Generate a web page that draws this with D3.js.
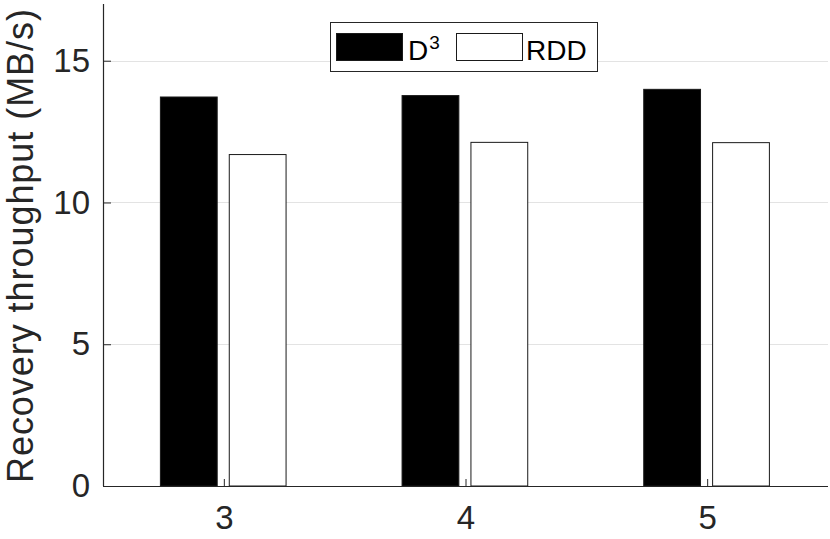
<!DOCTYPE html>
<html>
<head>
<meta charset="utf-8">
<title>Recovery throughput</title>
<script src="https://d3js.org/d3.v7.min.js"></script>
<style>
  body { margin: 0; background: #fff; }
  text { font-family: "Liberation Sans", Arial, sans-serif; }
</style>
</head>
<body>
<div id="chart"></div>
<script>
// values
const categories = [3, 4, 5]
const seriesNames = ["D", "RDD"]
const d3Values = [13.72, 13.77, 13.99]
const rddValues = [11.69, 12.12, 12.11]
const yTicks = [0, 5, 10, 15]

const W = 830, H = 539
const plotL = 103, plotR = 828, plotT = 4, plotB = 486
const ink = "#262626"

const svg = d3.select("#chart").append("svg")
    .attr("width", W)
    .attr("height", H)

const x = d3.scaleLinear().domain([2.5, 5.5]).range([plotL, plotR])
const y = d3.scaleLinear().domain([0, 17]).range([plotB, plotT])

// horizontal grid
svg.append("g")
    .selectAll("line")
    .data(yTicks.filter(d => d > 0))
    .enter().append("line")
    .attr("x1", plotL).attr("x2", plotR)
    .attr("y1", d => Math.round(y(d)) + 0.5).attr("y2", d => Math.round(y(d)) + 0.5)
    .attr("stroke", "#e3e3e3")
    .attr("stroke-width", 1)

// bars: D^3 black, RDD white
const barW = 0.235
const offsets = [-0.145, 0.14]
const series = [
    {name: "D3", values: d3Values, fill: "#000"},
    {name: "RDD", values: rddValues, fill: "#fff"}
]

series.forEach((s, i) => {
    svg.append("g")
        .selectAll("rect")
        .data(s.values)
        .enter().append("rect")
        .attr("x", (d, j) => x(categories[j] + offsets[i] - barW / 2))
        .attr("width", x(barW) - x(0))
        .attr("y", d => y(d))
        .attr("height", d => y(0) - y(d))
        .attr("fill", s.fill)
        .attr("stroke", "#1a1a1a")
        .attr("stroke-width", 1)
})

// axes
const yAxis = d3.axisLeft(y)
    .tickValues(yTicks)
    .tickSize(-8)
    .tickPadding(13)
const xAxis = d3.axisBottom(x)
    .tickValues(categories)
    .tickSize(-7)
    .tickPadding(20)
    .tickFormat(d3.format("d"))

const gy = svg.append("g")
    .attr("transform", "translate(" + plotL + ",0)")
    .call(yAxis)
const gx = svg.append("g")
    .attr("transform", "translate(0," + plotB + ")")
    .call(xAxis)

;[gx, gy].forEach(g => {
    g.select(".domain").attr("stroke", ink).attr("stroke-width", 1.2)
    g.selectAll(".tick line").attr("stroke", ink)
    g.selectAll(".tick text")
        .attr("fill", ink)
        .attr("font-size", "33px")
        .attr("font-family", "Liberation Sans, Arial, sans-serif")
})
gy.select(".domain").attr("d", "M0.5," + plotT + "V" + plotB)
gx.select(".domain").attr("d", "M" + plotL + ",0.5H" + plotR)

// y label
svg.append("text")
    .attr("transform", "translate(33," + 246 + ") rotate(-90)")
    .attr("text-anchor", "middle")
    .attr("font-size", "36px")
    .attr("textLength", 474)
    .attr("lengthAdjust", "spacing")
    .attr("fill", ink)
    .text("Recovery throughput (MB/s)")

// legend
const lg = svg.append("g")
lg.append("rect")
    .attr("x", 330.5).attr("y", 22.5)
    .attr("width", 267).attr("height", 49)
    .attr("fill", "#fff")
    .attr("stroke", ink)
    .attr("stroke-width", 1)

const swatchX = [336, 456]
const labelX = [408, 526]
series.forEach((s, i) => {
    lg.append("rect")
        .attr("x", swatchX[i] + 0.5).attr("y", 33.5)
        .attr("width", 66).attr("height", 27)
        .attr("fill", s.fill)
        .attr("stroke", "#1a1a1a")
})
const t1 = lg.append("text")
    .attr("x", labelX[0]).attr("y", 60)
    .attr("font-size", "28px")
    .attr("fill", "#000")
t1.append("tspan").text(seriesNames[0])
t1.append("tspan")
    .attr("font-size", "19px")
    .attr("dy", -11)
    .attr("dx", 1)
    .text("3")
lg.append("text")
    .attr("x", labelX[1]).attr("y", 60)
    .attr("font-size", "28px")
    .attr("fill", "#000")
    .text(seriesNames[1])
</script>
</body>
</html>
